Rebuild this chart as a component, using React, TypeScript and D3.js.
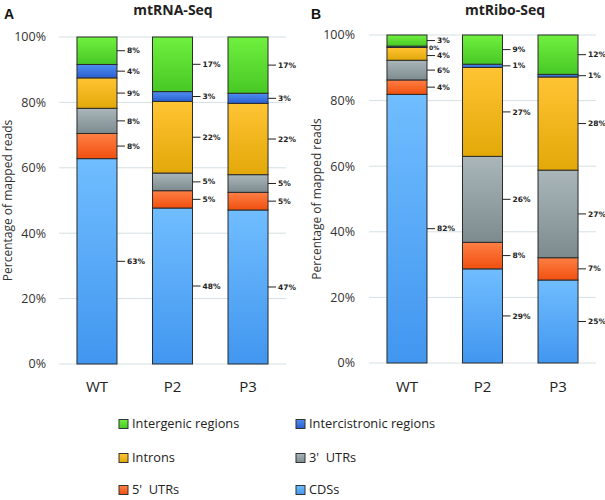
import React from "react";
import * as d3 from "d3";

const categories = ["WT", "P2", "P3"];
const seriesNames = ["CDSs", "5'\u00a0 UTRs", "3'\u00a0 UTRs", "Introns", "Intercistronic regions", "Intergenic regions"];
const seriesKeys = ["cds", "utr5", "utr3", "introns", "intercistronic", "intergenic"];
const seriesColors = [
  ["#70bdff", "#4196ef"],
  ["#ff7f45", "#f0500f"],
  ["#aab6ba", "#7d8b8f"],
  ["#ffc433", "#e3a808"],
  ["#4f8ff0", "#2a5fd0"],
  ["#70f03e", "#48c825"],
];
// values per category, order: CDS, 5'UTR, 3'UTR, Introns, Intercistronic, Intergenic
const rnaWT = [62.8, 7.7, 7.7, 9.3, 4.1, 8.4];
const rnaP2 = [47.7, 5.3, 5.4, 21.9, 3.0, 16.7];
const rnaP3 = [47.1, 5.4, 5.4, 21.8, 3.1, 17.2];
const riboWT = [81.9, 4.4, 6.0, 3.9, 0.4, 3.4];
const riboP2 = [28.7, 8.1, 26.2, 27.1, 1.0, 8.9];
const riboP3 = [25.3, 6.8, 26.7, 28.4, 0.8, 12.0];
const yTicks = [0, 20, 40, 60, 80, 100];
const legendOrder = [5, 4, 3, 2, 1, 0];

const FONT = "'Open Sans', sans-serif";
const LABEL_FONT = "Verdana, 'DejaVu Sans', sans-serif";

type PanelProps = {
  letter: string;
  title: string;
  data: number[][];
  x0: number;
  x1: number;
  yBottom: number;
  yTop: number;
  titleX: number;
  letterX: number;
  axisTitleX: number;
  tickRight: number;
};

function Panel(p: PanelProps) {
  const x = d3.scaleBand<string>().domain(categories).range([p.x0, p.x1]).paddingInner(0.47).paddingOuter(0.238);
  const y = d3.scaleLinear().domain([0, 100]).range([p.yBottom, p.yTop]);
  const rows = categories.map((c, i) => {
    const obj: any = { cat: c };
    seriesKeys.forEach((k, j) => (obj[k] = p.data[i][j]));
    return obj;
  });
  const stacked = d3.stack<any>().keys(seriesKeys)(rows);
  const bw = x.bandwidth();

  // label positions, resolved top-down per bar to avoid overlaps
  const labels: { cat: string; ci: number; si: number; y: number; v: number }[] = [];
  categories.forEach((cat, ci) => {
    const items = stacked
      .map((s, si) => ({ cat, ci, si, y: y((s[ci][0] + s[ci][1]) / 2), v: s[ci][1] - s[ci][0] }))
      .sort((a, b) => a.y - b.y);
    let prev = -Infinity;
    items.forEach((it) => {
      if (it.y < prev + 7.5) it.y = prev + 7.5;
      prev = it.y;
      labels.push(it);
    });
  });

  return (
    <g>
      <text x={p.letterX} y={19} fontFamily="'Liberation Sans', Arial, sans-serif" fontWeight="bold" fontSize={14} fill="#111">
        {p.letter}
      </text>
      <text x={p.titleX} y={15} textAnchor="middle" fontFamily={FONT} fontWeight="bold" fontSize={14} fill="#222">
        {p.title}
      </text>
      {yTicks.map((t) => (
        <g key={t}>
          <line x1={p.x0} x2={p.x1} y1={y(t)} y2={y(t)} stroke="#d5dfe3" strokeWidth={1} />
          <text x={p.tickRight} y={y(t)} dy="0.35em" textAnchor="end" fontFamily={FONT} fontSize={12.5} fill="#333">
            {t}%
          </text>
        </g>
      ))}
      <text
        transform={`translate(${p.axisTitleX},${(p.yTop + p.yBottom) / 2}) rotate(-90)`}
        textAnchor="middle"
        fontFamily={FONT}
        fontSize={12}
        fill="#333"
      >
        Percentage of mapped reads
      </text>
      {stacked.map((s, si) =>
        s.map((d, ci) => {
          const cat = categories[ci];
          const bx = x(cat)!;
          const yt = y(d[1]);
          const yb = y(d[0]);
          return (
            <rect
              key={`${si}-${ci}`}
              x={bx}
              y={yt}
              width={bw}
              height={Math.max(0, yb - yt)}
              fill={`url(#grad-${si})`}
              stroke="#2b2b2b"
              strokeWidth={1}
            />
          );
        })
      )}
      {labels.map((l) => {
        const bx = x(l.cat)! + bw;
        const small = l.v < 0.5;
        return (
          <g key={`l-${l.si}-${l.ci}`}>
            {!small && <line x1={bx} x2={bx + 8} y1={l.y} y2={l.y} stroke="#222" strokeWidth={1} />}
            <text
              x={small ? bx + 2 : bx + 10}
              y={l.y}
              dy="0.35em"
              fontFamily={LABEL_FONT}
              fontWeight="bold"
              fontSize={small ? 6 : 7.5}
              fill="#222"
            >
              {Math.round(l.v)}%
            </text>
          </g>
        );
      })}
      {categories.map((c) => (
        <text key={c} x={x(c)! + bw / 2} y={392} textAnchor="middle" fontFamily={FONT} fontSize={15} fill="#222">
          {c}
        </text>
      ))}
    </g>
  );
}

export default function App() {
  const legendX = [119, 296];
  const legendY = [424, 458, 490];
  return (
    <svg width={605} height={500} style={{ position: "absolute", left: 0, top: 0, background: "#fff" }}>
      <defs>
        {seriesColors.map((c, i) => (
          <linearGradient key={i} id={`grad-${i}`} x1="0" y1="0" x2="0" y2="1">
            <stop offset="0%" stopColor={c[0]} />
            <stop offset="100%" stopColor={c[1]} />
          </linearGradient>
        ))}
      </defs>
      <rect width={605} height={500} fill="#fff" />
      <Panel
        letter="A"
        title="mtRNA-Seq"
        data={[rnaWT, rnaP2, rnaP3]}
        x0={59}
        x1={286}
        yBottom={364}
        yTop={37}
        titleX={173}
        letterX={4}
        axisTitleX={12}
        tickRight={46}
      />
      <Panel
        letter="B"
        title="mtRibo-Seq"
        data={[riboWT, riboP2, riboP3]}
        x0={369}
        x1={596}
        yBottom={363}
        yTop={35}
        titleX={505}
        letterX={311}
        axisTitleX={321}
        tickRight={355}
      />
      {legendOrder.map((si, k) => {
        const col = k % 2;
        const row = Math.floor(k / 2);
        const lx = legendX[col];
        const ly = legendY[row];
        return (
          <g key={si}>
            <rect x={lx} y={ly - 4.5} width={9} height={9} fill={`url(#grad-${si})`} stroke="#333" strokeWidth={1} />
            <text x={lx + 13} y={ly} dy="0.35em" fontFamily={FONT} fontSize={12.8} fill="#222">
              {seriesNames[si]}
            </text>
          </g>
        );
      })}
    </svg>
  );
}
